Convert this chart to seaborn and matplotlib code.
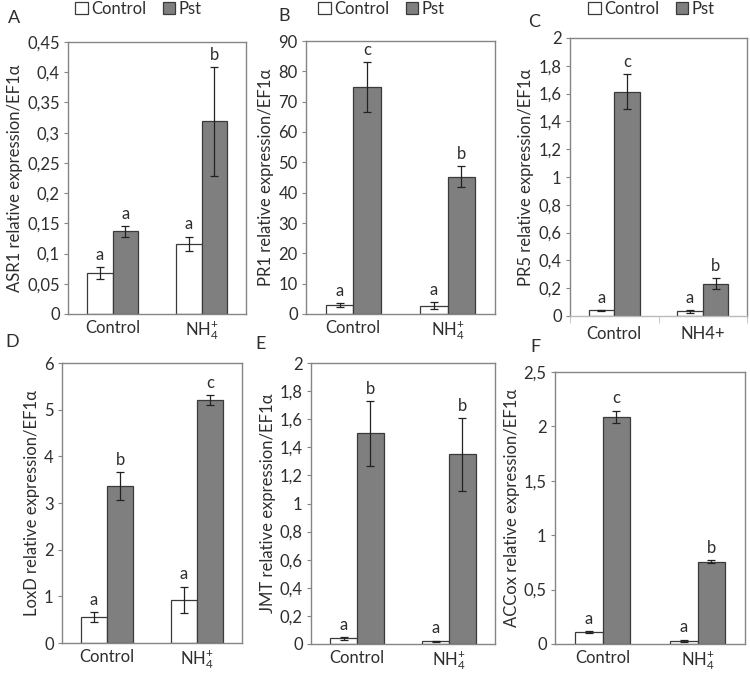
import numpy as np
import pandas as pd
import matplotlib
matplotlib.use("Agg")
import matplotlib.pyplot as plt
import seaborn as sns
from matplotlib.patches import Patch
from matplotlib.ticker import FuncFormatter, MultipleLocator

sns.set_style("white")
plt.rcParams['font.family'] = ['Lato', 'DejaVu Sans']
plt.rcParams['mathtext.fontset'] = 'custom'
plt.rcParams['mathtext.rm'] = 'Lato'
plt.rcParams['mathtext.it'] = 'Lato:italic'

conditions = ["Control", "NH4"]
treatments = ["Control", "Pst"]

# means ordered: [Control/Control, Control/Pst, NH4/Control, NH4/Pst]
asr1 = [0.068, 0.137, 0.116, 0.319]
asr1_err = [0.010, 0.009, 0.012, 0.090]
asr1_let = ["a", "a", "a", "b"]

pr1 = [3.0, 74.8, 2.8, 45.3]
pr1_err = [0.6, 8.2, 1.2, 3.5]
pr1_let = ["a", "c", "a", "b"]

pr5 = [0.040, 1.615, 0.035, 0.232]
pr5_err = [0.002, 0.125, 0.010, 0.040]
pr5_let = ["a", "c", "a", "b"]

loxd = [0.56, 3.37, 0.93, 5.20]
loxd_err = [0.10, 0.30, 0.28, 0.11]
loxd_let = ["a", "b", "a", "c"]

jmt = [0.040, 1.50, 0.020, 1.35]
jmt_err = [0.010, 0.23, 0.004, 0.26]
jmt_let = ["a", "b", "a", "b"]

accox = [0.11, 2.09, 0.03, 0.755]
accox_err = [0.005, 0.055, 0.010, 0.015]
accox_let = ["a", "c", "a", "b"]

nh4_math = r"NH$_{4}^{+}$"
panels = [
    dict(tag="A", gene="ASR1", vals=asr1, err=asr1_err, let=asr1_let, ymax=0.45, step=0.05,
         rect=[68, 42, 246, 314], xlab=["Control", nh4_math], legend=(75, 1), ticks=False),
    dict(tag="B", gene="PR1", vals=pr1, err=pr1_err, let=pr1_let, ymax=90, step=10,
         rect=[306, 41, 495, 314], xlab=["Control", nh4_math], legend=(318, 1), ticks=False),
    dict(tag="C", gene="PR5", vals=pr5, err=pr5_err, let=pr5_let, ymax=2, step=0.2,
         rect=[570, 38, 747, 316], xlab=["Control", "NH4+"], legend=(588, 1), ticks=True),
    dict(tag="D", gene="LoxD", vals=loxd, err=loxd_err, let=loxd_let, ymax=6, step=1,
         rect=[62, 363, 242, 643], xlab=["Control", nh4_math], legend=None, ticks=False),
    dict(tag="E", gene="JMT", vals=jmt, err=jmt_err, let=jmt_let, ymax=2, step=0.2,
         rect=[311, 363, 495, 644], xlab=["Control", nh4_math], legend=None, ticks=False),
    dict(tag="F", gene="ACCox", vals=accox, err=accox_err, let=accox_let, ymax=2.5, step=0.5,
         rect=[555, 372, 745, 644], xlab=["Control", nh4_math], legend=None, ticks=False),
]
tag_pos = {"A": (8, 18), "B": (278, 16), "C": (528, 22), "D": (5, 342), "E": (255, 344), "F": (530, 347)}

W, H = 750, 674
fig = plt.figure(figsize=(W / 100, H / 100), dpi=100)

colors = {"Control": "white", "Pst": "#7f7f7f"}
txt = "#2e2e2e"
spine_c = "#858585"


def fmt(v, pos):
    s = f"{v:.2f}".rstrip("0").rstrip(".")
    if s in ("-0", ""):
        s = "0"
    return s.replace(".", ",")


for p in panels:
    l, t, r, b = p["rect"]
    ax = fig.add_axes([l / W, 1 - b / H, (r - l) / W, (b - t) / H])
    df = pd.DataFrame({
        "cond": [c for c in conditions for _ in treatments],
        "trt": [tr for _ in conditions for tr in treatments],
        "val": p["vals"],
    })
    sns.barplot(data=df, x="cond", y="val", hue="trt", order=conditions, hue_order=treatments,
                palette=colors, edgecolor="#3a3a3a", linewidth=0.9, width=0.58,
                errorbar=None, legend=False, ax=ax, saturation=1)
    bars = sorted(ax.patches, key=lambda q: q.get_x())
    xs = [q.get_x() + q.get_width() / 2 for q in bars]
    hs = [q.get_height() for q in bars]
    ax.errorbar(xs, hs, yerr=p["err"], fmt="none", ecolor="#222222", elinewidth=0.9,
                capsize=3, capthick=0.9)
    for x, h, e, lt in zip(xs, hs, p["err"], p["let"]):
        ax.annotate(lt, (x, h + e), xytext=(0, 3), textcoords="offset points",
                    ha="center", va="bottom", fontsize=12, color=txt)
    ax.set_ylim(0, p["ymax"])
    ax.set_xlim(-0.5, 1.5)
    ax.yaxis.set_major_locator(MultipleLocator(p["step"]))
    ax.yaxis.set_major_formatter(FuncFormatter(fmt))
    ax.set_ylabel(p["gene"] + " relative expression/EF1α", fontsize=12, color=txt, labelpad=3)
    ax.set_xlabel("")
    ax.set_xticks([0, 1])
    ax.set_xticklabels(p["xlab"], fontsize=12, color=txt)
    ax.tick_params(axis="y", labelsize=12, labelcolor=txt, length=3, color=spine_c, left=True, pad=3)
    if p["ticks"]:
        ax.set_xticks([-0.5, 0.5, 1.5], minor=True)
        ax.tick_params(axis="x", which="major", length=0, pad=7)
        ax.tick_params(axis="x", which="minor", length=5, color="#bbbbbb", bottom=True)
    else:
        ax.tick_params(axis="x", length=0, pad=4)
    for s in ax.spines.values():
        s.set_color(spine_c)
        s.set_linewidth(1.0)
        s.set_visible(True)
    if p["tag"] == "C":
        ax.spines["bottom"].set_color("#bbbbbb")
    if p["legend"] is not None:
        lx, ly = p["legend"]
        handles = [Patch(facecolor=colors[tr], edgecolor="#3a3a3a", linewidth=0.9) for tr in treatments]
        ax.legend(handles, treatments, loc="upper left", bbox_to_anchor=(lx / W, 1 - ly / H),
                  bbox_transform=fig.transFigure, ncol=2, frameon=False, fontsize=12,
                  handlelength=0.75, handleheight=0.75, handletextpad=0.2, columnspacing=1.0,
                  borderaxespad=0, borderpad=0, labelcolor=txt)
    tx, ty = tag_pos[p["tag"]]
    fig.text(tx / W, 1 - ty / H, p["tag"], fontsize=13, color=txt, va="center", ha="left")

fig.savefig("out.png", dpi=100)
